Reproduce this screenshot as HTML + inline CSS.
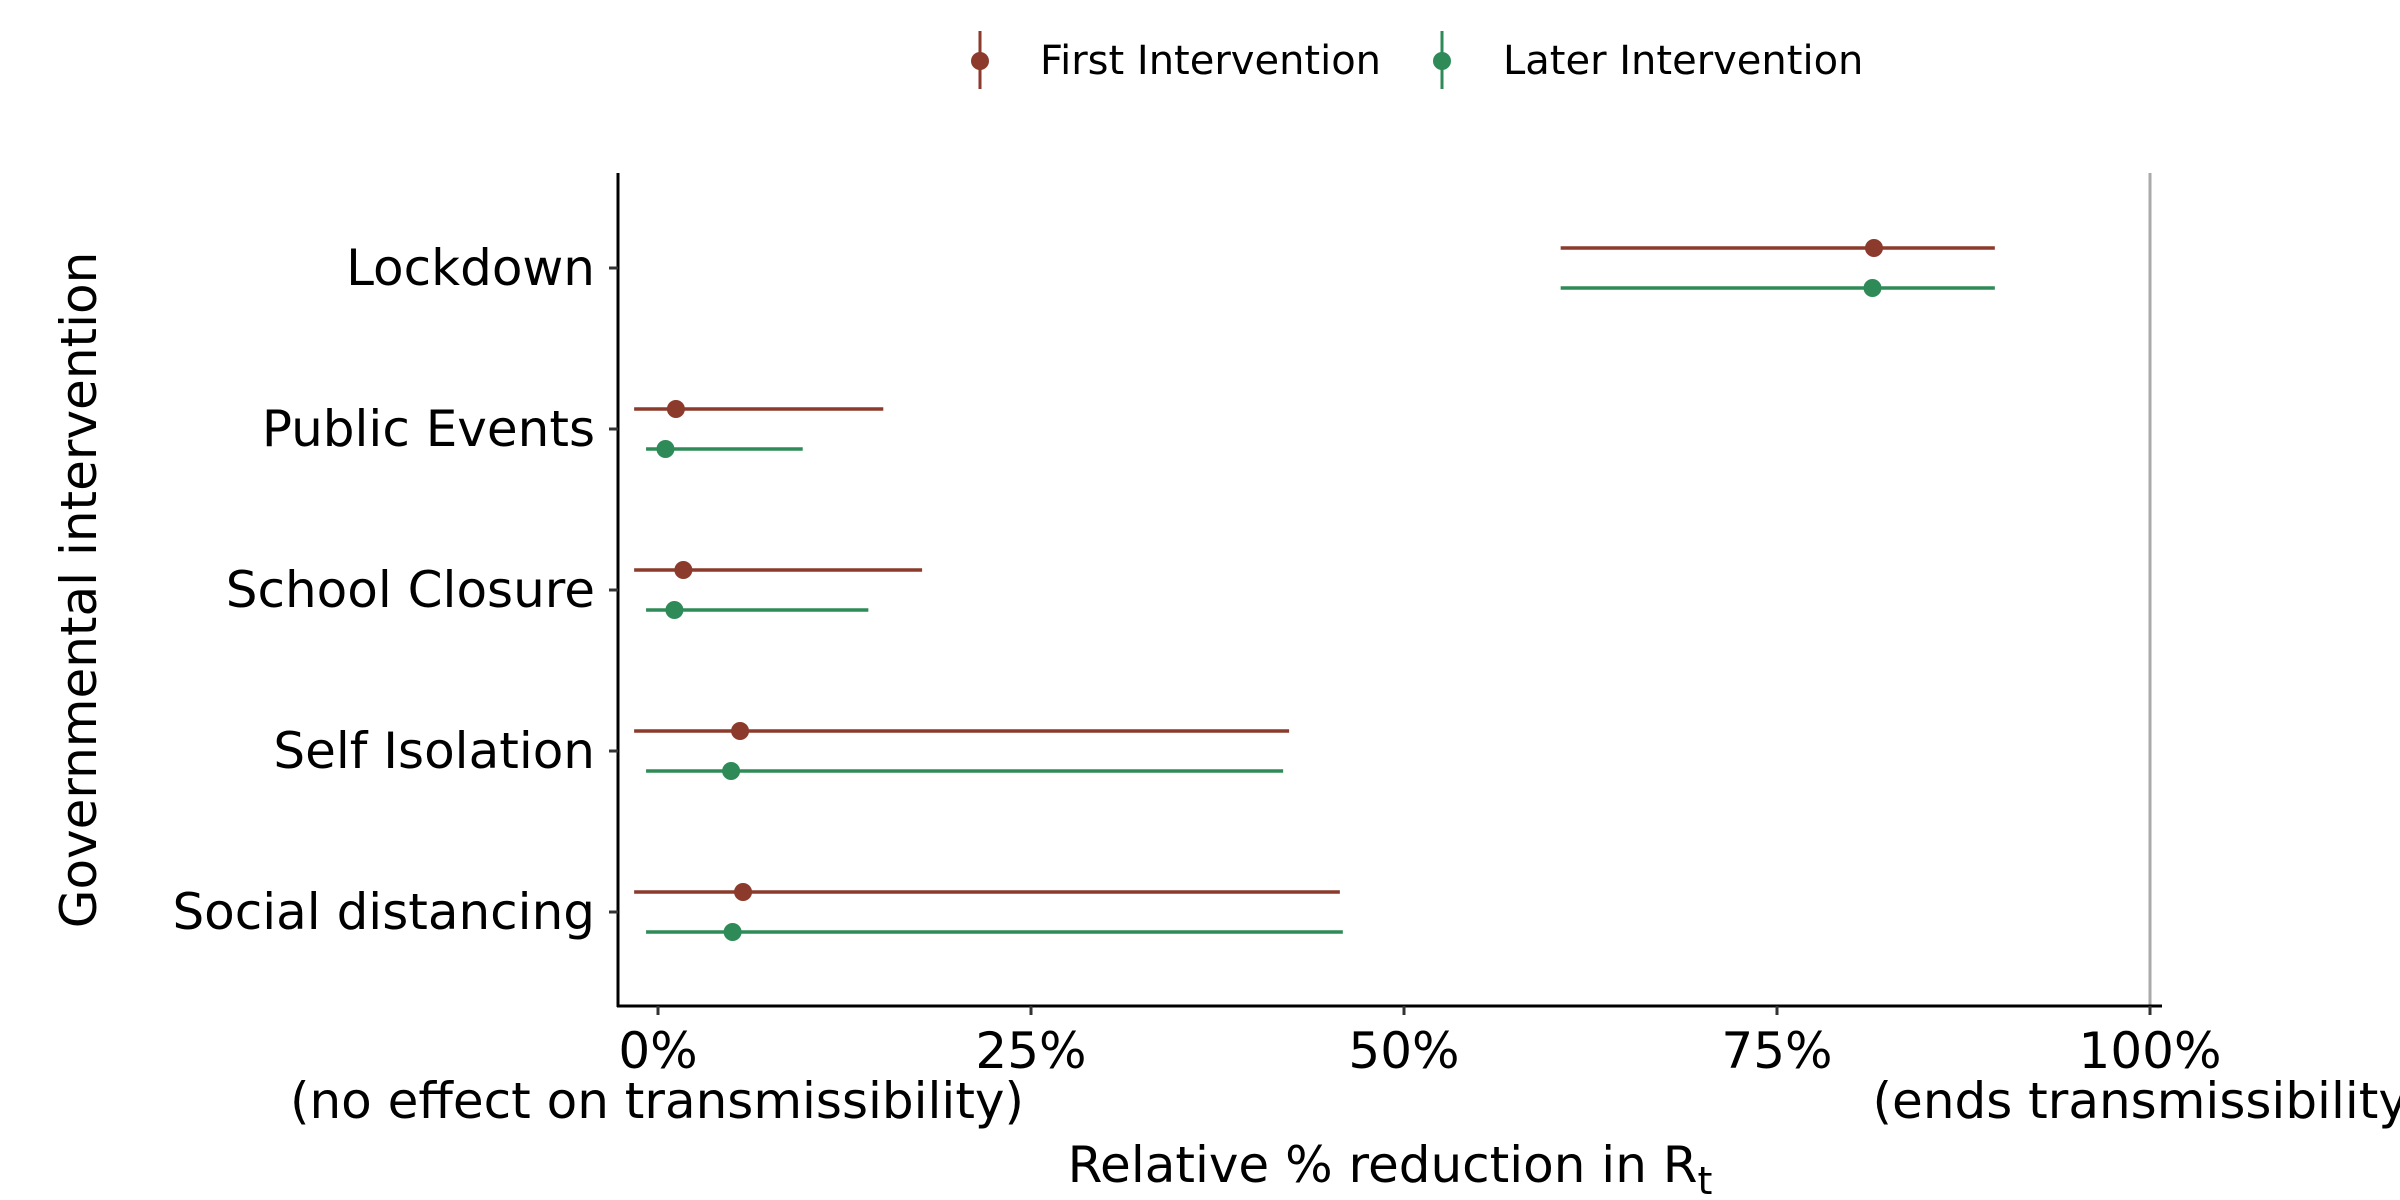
<!DOCTYPE html>
<html><head><meta charset="utf-8"><style>
html,body{margin:0;padding:0;background:#fff;}
svg{display:block;font-family:"DejaVu Sans","Liberation Sans",sans-serif;}
</style></head><body>
<svg id="chart" width="2400" height="1200" viewBox="0 0 2400 1200">
<g>
  <g>
    <line x1="980" y1="31" x2="980" y2="89" stroke="#8B3A2B" stroke-width="3"/>
    <circle cx="980" cy="61" r="9" fill="#8B3A2B"/>
    <text x="1040" y="74" font-size="40" fill="#000">First Intervention</text>
  </g>
  <g>
    <line x1="1442" y1="31" x2="1442" y2="89" stroke="#2E8B57" stroke-width="3"/>
    <circle cx="1442" cy="61" r="9" fill="#2E8B57"/>
    <text x="1503" y="74" font-size="40" fill="#000">Later Intervention</text>
  </g>
</g>
<line x1="2150" y1="173" x2="2150" y2="1006" stroke="#aaa" stroke-width="3"/>
<g id="marks"></g>
<line x1="618" y1="173" x2="618" y2="1007" stroke="#000" stroke-width="3"/>
<line x1="617" y1="1006" x2="2162" y2="1006" stroke="#000" stroke-width="3"/>
<g id="yticks"></g>
<g id="xticks"></g>
<text x="657" y="1118" font-size="50" text-anchor="middle">(no effect on transmissibility)</text>
<text x="2150" y="1118" font-size="50" text-anchor="middle">(ends transmissibility)</text>
<text x="1390" y="1182" font-size="50" text-anchor="middle">Relative % reduction in  R<tspan font-size="38" dy="12">t</tspan></text>
<text transform="translate(96,590) rotate(-90)" font-size="50" text-anchor="middle">Governmental intervention</text>
</svg>
<script>
const categories = ["Lockdown","Public Events","School Closure","Self Isolation","Social distancing"];
const firstPoint = [81.5, 1.2, 1.7, 5.5, 5.7];
const firstLow = [60.5, -1.6, -1.6, -1.6, -1.6];
const firstHigh = [89.6, 15.1, 17.7, 42.3, 45.7];
const laterPoint = [81.4, 0.5, 1.1, 4.9, 5.0];
const laterLow = [60.5, -0.8, -0.8, -0.8, -0.8];
const laterHigh = [89.6, 9.7, 14.1, 41.9, 45.9];
const xTickValues = [0, 25, 50, 75, 100];
const xTickLabels = ["0%","25%","50%","75%","100%"];

const NS = "http://www.w3.org/2000/svg";
function xs(v){ return 658 + v * 14.92; }
function ys(i){ return 268 + i * 161; }
function mk(tag, attrs, parent){
  const e = document.createElementNS(NS, tag);
  for (const k in attrs) e.setAttribute(k, attrs[k]);
  parent.appendChild(e);
  return e;
}
const marks = document.getElementById("marks");
const yt = document.getElementById("yticks");
const xt = document.getElementById("xticks");
const series = [
  {name:"first", color:"#8B3A2B", p:firstPoint, lo:firstLow, hi:firstHigh, off:-20},
  {name:"later", color:"#2E8B57", p:laterPoint, lo:laterLow, hi:laterHigh, off:20}
];
categories.forEach((c, i) => {
  const y = ys(i);
  const tk = mk("line", {x1:609, x2:618, y1:y, y2:y, stroke:"#333", "stroke-width":3}, yt);
  
  
  const lb = mk("text", {x:595, y:y+17, "font-size":50, "text-anchor":"end"}, yt);
  lb.textContent = c;
  
  
  series.forEach(s => {
    const yy = y + s.off;
    const ln = mk("line", {x1:xs(s.lo[i]), x2:xs(s.hi[i]), y1:yy, y2:yy, stroke:s.color, "stroke-width":3.5}, marks);
    
    
    const pt = mk("circle", {cx:xs(s.p[i]), cy:yy, r:9, fill:s.color}, marks);
    
    
  });
});
xTickValues.forEach((v, i) => {
  const x = xs(v);
  const tk = mk("line", {x1:x, x2:x, y1:1006, y2:1015, stroke:"#333", "stroke-width":3}, xt);
  
  
  const lb = mk("text", {x:x, y:1068, "font-size":50, "text-anchor":"middle"}, xt);
  lb.textContent = xTickLabels[i];
  
  
});
</script>
</body></html>
